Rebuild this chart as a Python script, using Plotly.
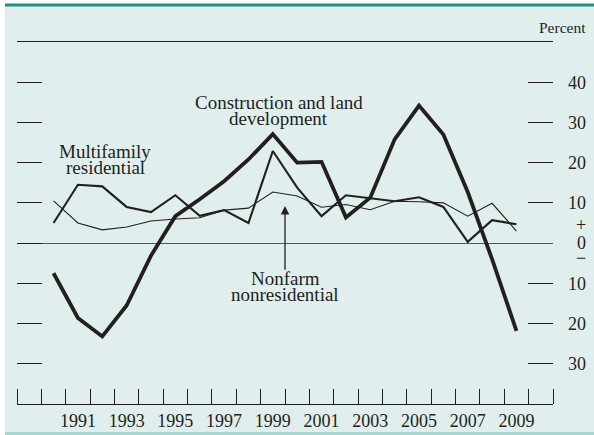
import plotly.graph_objects as go

years = list(range(1990, 2010))
construction = [-7.5, -18.6, -23.2, -15.5, -3.1, 6.7, 10.9, 15.4, 20.8, 27.1,
                20.0, 20.2, 6.4, 11.3, 25.8, 34.2, 27.0, 12.7, -4.0, -21.8]
multifamily = [5.0, 14.5, 14.1, 9.0, 7.7, 11.9, 6.8, 8.2, 5.0, 22.9,
               13.8, 6.7, 11.9, 11.2, 10.4, 11.4, 9.0, 0.3, 5.7, 4.7]
nonfarm = [10.5, 5.0, 3.3, 4.0, 5.5, 6.0, 6.3, 8.2, 8.7, 12.7,
           11.7, 8.9, 9.6, 8.3, 10.4, 10.3, 10.0, 6.7, 9.9, 3.0]

year_labels = [str(y) for y in range(1991, 2010, 2)]
year_label_pos = list(range(1991, 2010, 2))
year_bounds = [y + 0.5 for y in range(1988, 2011)]
y_ticks = [40, 30, 20, 10, -10, -20, -30]
y_ticktext = ["40", "30", "20", "10", "10", "20", "30"]

INK = "#231f20"
FONT = "Liberation Serif, Times New Roman, serif"

L, R, T, B = 17, 41, 42, 31
W, H = 594, 435
PW, PH = W - L - R, H - T - B


def px(xp):
    return (xp - L) / PW


def py(yp):
    return (H - B - yp) / PH


fig = go.Figure()
fig.add_trace(go.Scatter(x=years, y=nonfarm, mode="lines",
                         line=dict(color=INK, width=1.1), hoverinfo="skip"))
fig.add_trace(go.Scatter(x=years, y=multifamily, mode="lines",
                         line=dict(color=INK, width=2.1), hoverinfo="skip"))
fig.add_trace(go.Scatter(x=years, y=construction, mode="lines",
                         line=dict(color=INK, width=3.8), hoverinfo="skip"))
# invisible trace on right axis so it renders
fig.add_trace(go.Scatter(x=[years[0]], y=[0], mode="lines", yaxis="y2",
                         line=dict(color="rgba(0,0,0,0)"), hoverinfo="skip"))

shapes = [
    dict(type="rect", xref="paper", yref="paper", x0=px(5), x1=px(600),
         y0=py(432), y1=py(6), fillcolor="#e0eeed", line=dict(width=0),
         layer="below"),
    dict(type="rect", xref="paper", yref="paper", x0=px(5), x1=px(600),
         y0=py(6.5), y1=py(3.5), fillcolor="#1f8f7d", line=dict(width=0),
         layer="below"),
    dict(type="rect", xref="paper", yref="paper", x0=px(5), x1=px(600),
         y0=py(436), y1=py(432), fillcolor="#a9d6d1", line=dict(width=0),
         layer="below"),
]

annotations = [
    dict(text="Construction and land", x=1999.25, y=35.0, xref="x", yref="y",
         showarrow=False, font=dict(size=19, color=INK, family=FONT)),
    dict(text="development", x=1999.23, y=31.0, xref="x", yref="y",
         showarrow=False, font=dict(size=19, color=INK, family=FONT)),
    dict(text="Multifamily", x=1992.13, y=22.9, xref="x", yref="y",
         showarrow=False, font=dict(size=19, color=INK, family=FONT)),
    dict(text="residential", x=1992.13, y=18.9, xref="x", yref="y",
         showarrow=False, font=dict(size=19, color=INK, family=FONT)),
    dict(text="Nonfarm", x=1999.5, y=-8.9, xref="x", yref="y",
         showarrow=False, font=dict(size=19, color=INK, family=FONT)),
    dict(text="nonresidential", x=1999.5, y=-12.8, xref="x", yref="y",
         showarrow=False, font=dict(size=19, color=INK, family=FONT)),
    dict(text="", x=1999.5, y=9.2, ax=1999.5, ay=-7.0, xref="x", yref="y",
         axref="x", ayref="y", showarrow=True, arrowhead=2, arrowsize=1.3,
         arrowwidth=1.3, arrowcolor=INK),
    dict(text="Percent", x=px(588), y=py(27), xref="paper", yref="paper",
         xanchor="right", yanchor="middle", showarrow=False,
         font=dict(size=15.5, color=INK, family=FONT)),
    dict(text="+", x=px(588), y=4.5, xref="paper", yref="y", xanchor="right",
         yanchor="middle", showarrow=False, font=dict(size=18, color=INK, family=FONT)),
    dict(text="0", x=px(588), y=0, xref="paper", yref="y", xanchor="right",
         yanchor="middle", showarrow=False, font=dict(size=18, color=INK, family=FONT)),
    dict(text="\u2212", x=px(588), y=-3.7, xref="paper", yref="y", xanchor="right",
         yanchor="middle", showarrow=False, font=dict(size=18, color=INK, family=FONT)),
]

fig.update_layout(
    width=W, height=H,
    margin=dict(l=L, r=R, t=T, b=B, pad=0, autoexpand=False),
    paper_bgcolor="white",
    plot_bgcolor="rgba(0,0,0,0)",
    showlegend=False,
    shapes=shapes,
    annotations=annotations,
    xaxis=dict(range=[1988.5, 2010.5], tickvals=year_label_pos, ticktext=year_labels,
               ticks="", showgrid=False, zeroline=False, showline=True, mirror=True,
               linecolor=INK, linewidth=1.2, ticklabelstandoff=0, automargin=False,
               tickfont=dict(size=18, color=INK, family=FONT),
               minor=dict(tickmode="array", tickvals=year_bounds, ticks="inside",
                          ticklen=15, tickcolor=INK, tickwidth=1.2, showgrid=False)),
    yaxis=dict(range=[-40, 50], tickvals=y_ticks + [0], ticks="inside", ticklen=25,
               tickcolor=INK, tickwidth=1.2, showticklabels=False, showgrid=False,
               zeroline=True, zerolinecolor="#555555", zerolinewidth=1.3,
               showline=False, automargin=False),
    yaxis2=dict(range=[-40, 50], overlaying="y", side="right", tickvals=y_ticks,
                ticktext=y_ticktext, ticks="inside", ticklen=25, tickcolor=INK,
                tickwidth=1.2, showgrid=False, zeroline=False, showline=False,
                ticklabelstandoff=14, automargin=False,
                tickfont=dict(size=18, color=INK, family=FONT)),
)

fig.write_html("out.html", config={"displayModeBar": False},
               post_script="document.body.style.margin='0';document.body.style.padding='0';")
